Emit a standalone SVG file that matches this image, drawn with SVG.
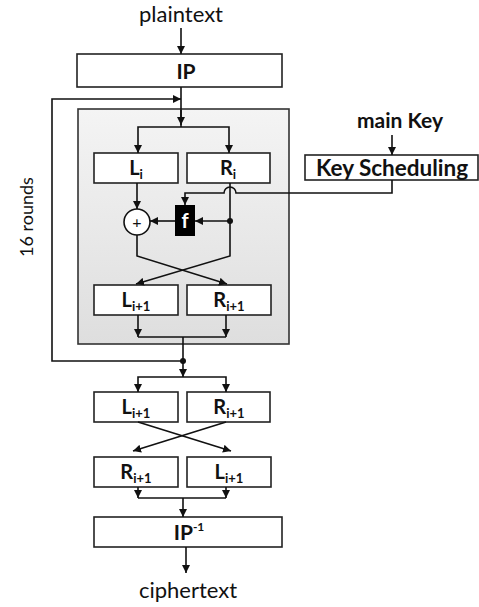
<svg xmlns="http://www.w3.org/2000/svg" width="479" height="607" viewBox="0 0 479 607">
<style>
.box{fill:#fff;stroke:#222;stroke-width:1.6}
.ln{fill:none;stroke:#111;stroke-width:1.6}
.t{font-family:Lato,"Open Sans","Liberation Sans",sans-serif;fill:#111}
.b{font-weight:bold}
.sub{font-size:13px;font-weight:bold}
</style>
<defs>
<marker id="ah" viewBox="0 0 10 10" refX="10" refY="5" markerWidth="8" markerHeight="8" markerUnits="userSpaceOnUse" orient="auto-start-reverse">
<path d="M0 0 L10 5 L0 10 Z" fill="#111"/>
</marker>
<linearGradient id="g" x1="0" y1="0" x2="0" y2="1">
<stop offset="0" stop-color="#f4f4f4"/>
<stop offset="1" stop-color="#dedede"/>
</linearGradient>
</defs>

<g id="round-frame"><rect x="78" y="109" width="211" height="235" fill="url(#g)" stroke="#333" stroke-width="1.6"/></g>

<g id="plaintext"><text class="t" x="181" y="22" font-size="22" text-anchor="middle">plaintext</text></g>
<g id="IP"><rect class="box" x="77" y="54" width="205" height="33"/><text class="t b" x="186" y="79" font-size="21" text-anchor="middle">IP</text></g>
<g id="Li"><rect class="box" x="94" y="153" width="84" height="30"/><text class="t b" x="136" y="175" font-size="20" text-anchor="middle">L<tspan class="sub" dy="4">i</tspan></text></g>
<g id="Ri"><rect class="box" x="187" y="153" width="83" height="30"/><text class="t b" x="228" y="175" font-size="20" text-anchor="middle">R<tspan class="sub" dy="4">i</tspan></text></g>
<g id="mainkey"><text class="t b" x="400" y="128" font-size="21" text-anchor="middle">main Key</text></g>
<g id="keysched"><rect class="box" x="305" y="155" width="173" height="25"/><text class="t b" x="392" y="176" font-size="22.5" text-anchor="middle">Key Scheduling</text></g>
<g id="xor"><circle cx="137" cy="222" r="13" fill="#fff" stroke="#111" stroke-width="1.6"/><text class="t" x="137" y="228" font-size="16" text-anchor="middle">+</text></g>
<g id="f"><rect x="175" y="205" width="20" height="31" fill="#000"/><text x="185" y="228" font-size="20" font-weight="bold" font-family="Lato,'Liberation Sans',sans-serif" fill="#fff" text-anchor="middle">f</text></g>
<g id="L1"><rect class="box" x="94" y="285" width="84" height="30"/><text class="t b" x="136" y="307" font-size="20" text-anchor="middle">L<tspan class="sub" dy="4">i+1</tspan></text></g>
<g id="R1"><rect class="box" x="187" y="285" width="84" height="30"/><text class="t b" x="229" y="307" font-size="20" text-anchor="middle">R<tspan class="sub" dy="4">i+1</tspan></text></g>
<g id="rounds"><text class="t" transform="translate(33 217) rotate(-90)" font-size="18" text-anchor="middle">16 rounds</text></g>
<g id="L2"><rect class="box" x="94" y="392" width="84" height="30"/><text class="t b" x="136" y="414" font-size="20" text-anchor="middle">L<tspan class="sub" dy="4">i+1</tspan></text></g>
<g id="R2"><rect class="box" x="187" y="392" width="83" height="30"/><text class="t b" x="229" y="414" font-size="20" text-anchor="middle">R<tspan class="sub" dy="4">i+1</tspan></text></g>
<g id="R3"><rect class="box" x="94" y="457" width="84" height="30"/><text class="t b" x="136" y="479" font-size="20" text-anchor="middle">R<tspan class="sub" dy="4">i+1</tspan></text></g>
<g id="L3"><rect class="box" x="187" y="457" width="84" height="30"/><text class="t b" x="229" y="479" font-size="20" text-anchor="middle">L<tspan class="sub" dy="4">i+1</tspan></text></g>
<g id="IPinv"><rect class="box" x="94" y="517" width="188" height="30"/><text class="t b" x="189" y="540" font-size="21" text-anchor="middle">IP<tspan font-size="12" dy="-9">-1</tspan></text></g>
<g id="ciphertext"><text class="t" x="188" y="598" font-size="22" text-anchor="middle">ciphertext</text></g>

<g id="connectors" class="ln">
<path class="ln" d="M181 28 V54" marker-end="url(#ah)"/>
<path class="ln" d="M181 87 V127"/>
<path class="ln" d="M181 110 V125" marker-end="url(#ah)"/>
<path class="ln" d="M183 361 H52 V99 H181" marker-end="url(#ah)"/>
<path class="ln" d="M138 153 V127 H229 V153" marker-start="url(#ah)" marker-end="url(#ah)"/>
<path class="ln" d="M137 183 V209" marker-end="url(#ah)"/>
<path class="ln" d="M175 221 H150" marker-end="url(#ah)"/>
<path class="ln" d="M230 221 H195" marker-end="url(#ah)"/>
<path class="ln" d="M230 183 V256 L136 284" marker-end="url(#ah)"/>
<path class="ln" d="M137 235 V256 L227 284" marker-end="url(#ah)"/>
<path class="ln" d="M392 180 V193 H236 A6 6 0 0 0 224 193 H185 V205" marker-end="url(#ah)"/>
<path class="ln" d="M392 135 V155" marker-end="url(#ah)"/>
<path class="ln" d="M138 315 V337" marker-end="url(#ah)"/>
<path class="ln" d="M226 315 V337" marker-end="url(#ah)"/>
<path class="ln" d="M138 337 H226"/>
<path class="ln" d="M183 337 V377" marker-end="url(#ah)"/>
<circle cx="183" cy="361" r="3" fill="#111" stroke="none"/>
<circle cx="230" cy="221" r="3" fill="#111" stroke="none"/>
<path class="ln" d="M138 392 V377 H226 V392" marker-start="url(#ah)" marker-end="url(#ah)"/>
<path class="ln" d="M138 422 L231 451" marker-end="url(#ah)"/>
<path class="ln" d="M226 422 L133 451" marker-end="url(#ah)"/>
<path class="ln" d="M138 487 V498" marker-end="url(#ah)"/>
<path class="ln" d="M226 487 V498" marker-end="url(#ah)"/>
<path class="ln" d="M138 498 H226"/>
<path class="ln" d="M183 498 V517" marker-end="url(#ah)"/>
<path class="ln" d="M186 547 V573" marker-end="url(#ah)"/>
</g>
</svg>
